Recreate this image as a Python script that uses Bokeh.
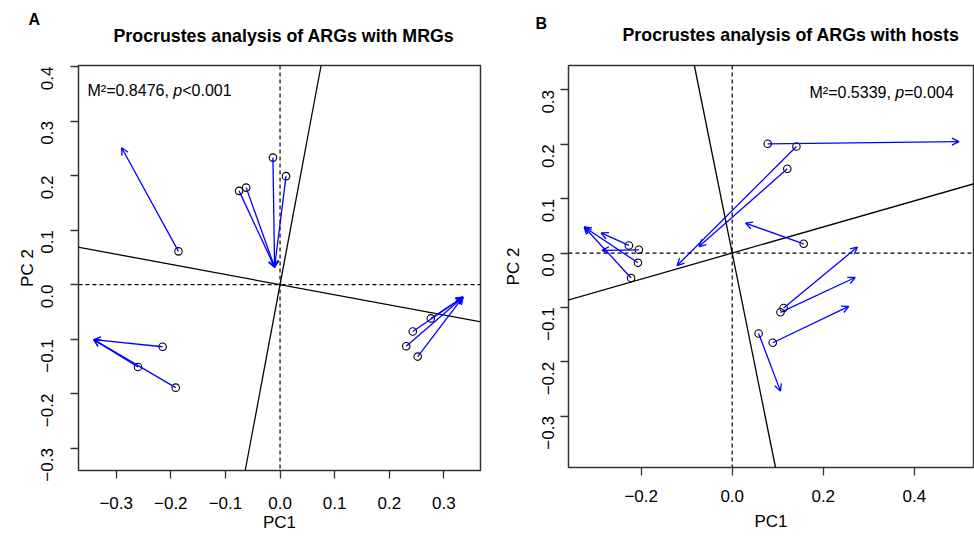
import math
from bokeh.plotting import figure
from bokeh.layouts import row
from bokeh.models import (Range1d, Span, Slope, Arrow, OpenHead, ColumnDataSource,
                          Label, Title, FixedTicker, CustomJSTickFormatter)
from bokeh.embed import file_html
from bokeh.resources import INLINE

FONT = "Liberation Sans"

# ---------------- Panel A data: ARGs vs MRGs ----------------
a_title = "Procrustes analysis of ARGs with MRGs"
a_stat = ["M\u00b2=0.8476, ", "p", "<0.001"]
a_start_x = [-0.186, -0.013, 0.011, -0.075, -0.062, -0.215, -0.260, -0.191, 0.276, 0.243, 0.231, 0.252]
a_start_y = [0.061, 0.233, 0.199, 0.172, 0.178, -0.114, -0.151, -0.189, -0.062, -0.086, -0.113, -0.132]
a_end_x = [-0.290, -0.010, -0.010, -0.010, -0.010, -0.341, -0.341, -0.341, 0.335, 0.335, 0.335, 0.335]
a_end_y = [0.251, 0.032, 0.032, 0.032, 0.032, -0.101, -0.101, -0.101, -0.023, -0.023, -0.023, -0.023]
a_rot_slopes = [-0.186, 5.35]
a_xticks = [-0.3, -0.2, -0.1, 0.0, 0.1, 0.2, 0.3]
a_yticks = [-0.3, -0.2, -0.1, 0.0, 0.1, 0.2, 0.3, 0.4]
a_xrange = (-0.369, 0.367)
a_yrange = (-0.341, 0.402)

# ---------------- Panel B data: ARGs vs hosts ----------------
b_title = "Procrustes analysis of ARGs with hosts"
b_stat = ["M\u00b2=0.5339, ", "p", "=0.004"]
b_start_x = [0.078, 0.141, 0.121, 0.157, 0.113, 0.106, 0.089, 0.058, -0.227, -0.205, -0.207, -0.222]
b_start_y = [0.201, 0.196, 0.155, 0.017, -0.101, -0.109, -0.165, -0.148, 0.014, 0.006, -0.018, -0.046]
b_end_x = [0.498, -0.121, -0.073, 0.029, 0.275, 0.270, 0.256, 0.106, -0.288, -0.286, -0.325, -0.325]
b_end_y = [0.205, -0.023, 0.012, 0.055, 0.011, -0.045, -0.098, -0.254, 0.037, 0.005, 0.048, 0.048]
b_rot_slopes = [0.24, -4.15]
b_xticks = [-0.2, 0.0, 0.2, 0.4]
b_yticks = [-0.3, -0.2, -0.1, 0.0, 0.1, 0.2, 0.3]
b_xrange = (-0.3596, 0.530)
b_yrange = (-0.3945, 0.345)

FMT = CustomJSTickFormatter(code="return (tick < -1e-9 ? '\\u2212' : '') + Math.abs(tick).toFixed(1);")


def panel(title, stat, sx, sy, ex, ey, slopes, xticks, yticks, xr, yr,
          width, height, frame_w, frame_h, bl, br, bt, bb,
          ystand, ylab_stand, xstand, xlab_stand,
          letter, letter_off, letter_stand, title_off, title_stand, stat_xy):
    p = figure(width=width, height=height, frame_width=frame_w, frame_height=frame_h,
               x_range=Range1d(*xr), y_range=Range1d(*yr),
               output_backend="svg", toolbar_location=None,
               min_border_left=bl, min_border_right=br, min_border_top=bt, min_border_bottom=bb)
    p.xgrid.visible = False
    p.ygrid.visible = False
    p.outline_line_color = "#333333"
    p.outline_line_width = 1.5
    p.background_fill_color = "white"
    p.border_fill_color = "white"

    # panel letter (outermost) and main title (next to the frame)
    p.title.text = letter
    p.title.align = "left"
    p.title.offset = letter_off
    p.title.text_font = FONT
    p.title.text_font_size = "16px"
    p.title.text_font_style = "bold"
    p.title.text_color = "black"
    p.title.standoff = letter_stand
    p.add_layout(Title(text=title, align="left", offset=title_off, text_font=FONT,
                       text_font_size="17.8px", text_font_style="bold",
                       text_color="black", standoff=title_stand), "above")

    p.xaxis.ticker = FixedTicker(ticks=xticks)
    p.yaxis.ticker = FixedTicker(ticks=yticks)
    for ax in (p.xaxis[0], p.yaxis[0]):
        ax.formatter = FMT
        ax.axis_line_color = None
        ax.major_tick_in = 0
        ax.major_tick_out = 8
        ax.major_tick_line_color = "#333333"
        ax.major_tick_line_width = 1.3
        ax.minor_tick_line_color = None
        ax.major_label_text_font = FONT
        ax.major_label_text_font_size = "17px"
        ax.major_label_text_color = "black"
        ax.axis_label_text_font = FONT
        ax.axis_label_text_font_size = "17px"
        ax.axis_label_text_font_style = "normal"
        ax.axis_label_text_color = "black"
    p.xaxis.axis_label = "PC1"
    p.yaxis.axis_label = "PC 2"
    p.yaxis.major_label_orientation = math.pi / 2
    p.yaxis.major_label_standoff = ystand
    p.yaxis.axis_label_standoff = ylab_stand
    p.xaxis.major_label_standoff = xstand
    p.xaxis.axis_label_standoff = xlab_stand

    # reference lines through origin
    p.add_layout(Span(location=0, dimension="width", line_color="black",
                      line_width=1.2, line_dash="4 3"))
    p.add_layout(Span(location=0, dimension="height", line_color="black",
                      line_width=1.2, line_dash="4 3"))
    for s in slopes:
        p.add_layout(Slope(gradient=s, y_intercept=0, line_color="black", line_width=1.3))

    src = ColumnDataSource(dict(x_start=sx, y_start=sy, x_end=ex, y_end=ey))
    p.add_layout(Arrow(source=src, x_start="x_start", y_start="y_start",
                       x_end="x_end", y_end="y_end",
                       line_color="#0000ff", line_width=1.3,
                       end=OpenHead(size=7, line_color="#0000ff", line_width=1.3)))
    pts = ColumnDataSource(dict(x=sx, y=sy))
    p.scatter("x", "y", source=pts, marker="circle", size=7.5, fill_color=None,
              line_color="black", line_width=1.1)

    # statistic text (frame-relative screen units)
    x0, y0 = stat_xy
    w1 = 5.364 * 16
    w2 = 0.556 * 16
    for txt, dx, style in ((stat[0], 0, "normal"), (stat[1], w1, "italic"), (stat[2], w1 + w2, "normal")):
        p.add_layout(Label(x=x0 + dx, y=y0, x_units="screen", y_units="screen",
                           text=txt, text_font=FONT, text_font_size="16px", text_color="black",
                           text_font_style=style, text_align="left", text_baseline="alphabetic"))
    return p


pa = panel(a_title, a_stat, a_start_x, a_start_y, a_end_x, a_end_y, a_rot_slopes,
           a_xticks, a_yticks, a_xrange, a_yrange,
           width=488, height=536, frame_w=402, frame_h=405, bl=78, br=8, bt=63, bb=68,
           ystand=23, ylab_stand=-4, xstand=18, xlab_stand=1,
           letter="A", letter_off=-50, letter_stand=-49, title_off=35, title_stand=40, stat_xy=(9, 380))

pb = panel(b_title, b_stat, b_start_x, b_start_y, b_end_x, b_end_y, b_rot_slopes,
           b_xticks, b_yticks, b_xrange, b_yrange,
           width=486, height=536, frame_w=405, frame_h=402, bl=80, br=1, bt=65, bb=69,
           ystand=12, ylab_stand=11, xstand=14, xlab_stand=7,
           letter="B", letter_off=-33, letter_stand=-61, title_off=54, title_stand=42, stat_xy=(241, 375))

layout = row(pa, pb, spacing=0)
open("out.html", "w").write(file_html(layout, INLINE))
